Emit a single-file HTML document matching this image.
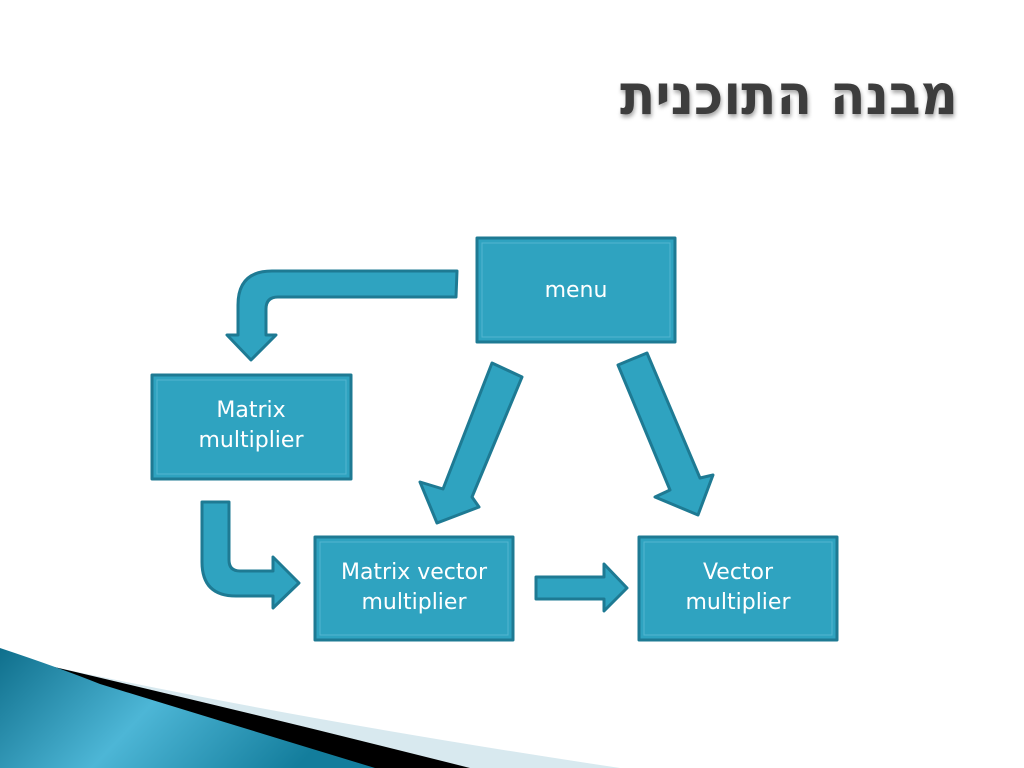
<!DOCTYPE html>
<html><head><meta charset="utf-8"><style>
html,body{margin:0;padding:0;background:#fff;width:1024px;height:768px;overflow:hidden}
svg{display:block}
</style></head><body>
<svg width="1024" height="768" viewBox="0 0 1024 768" xmlns="http://www.w3.org/2000/svg">
<defs>
<linearGradient id="tg" x1="0" y1="0" x2="1" y2="0.3">
<stop offset="0" stop-color="#0f6f8c"/><stop offset="0.5" stop-color="#4db6d6"/><stop offset="1" stop-color="#137d9c"/>
</linearGradient>
<filter id="sh" x="-5%" y="-20%" width="110%" height="150%"><feDropShadow dx="1" dy="3" stdDeviation="2" flood-color="#000" flood-opacity="0.35"/></filter>
</defs>
<path d="M40,664 Q300,720 620,768 L0,768 Z" fill="#d8e9ef"/>
<path d="M50,666 Q260,715 470,768 L0,768 Z" fill="#000"/>
<path d="M0,648 Q60,668 100,684 Q250,730 375,768 L0,768 Z" fill="url(#tg)"/>
<text x="620" y="114" textLength="338" lengthAdjust="spacingAndGlyphs" font-family="'DejaVu Sans', 'Liberation Sans', sans-serif" font-weight="bold" font-size="56" fill="#3c3c3c" filter="url(#sh)">מבנה התוכנית</text>
<g fill="#2fa3c0" stroke="#1e7a93" stroke-width="3" stroke-linejoin="round">
<rect x="477" y="238" width="198" height="104"/>
<rect x="152" y="375" width="199" height="104"/>
<rect x="315" y="537" width="198" height="103"/>
<rect x="639" y="537" width="198" height="103"/>
<path d="M457,271 L456,297 L278,297 Q266,297 266,309 L266,335 L276,335 L251,360 L227,335 L238,335 L238,305 Q238,271 272,271 Z"/>
<path d="M202,502 L229,502 L229,560 Q229,571 240,571 L273,571 L273,557 L299,583 L273,608 L273,596 L236,596 Q202,596 202,562 Z"/>
<path d="M492,363 L522,377 L472,497 L479,507 L437,523 L420,482 L443,489 Z"/>
<path d="M618,365 L647,353 L700,478 L713,475 L698,515 L655,497 L670,490 Z"/>
<path d="M536,577 L604,577 L604,564 L627,588 L604,611 L604,599 L536,599 Z"/>
</g>
<g fill="none" stroke="#5cbad3" stroke-width="1" opacity="0.8">
<rect x="482" y="243" width="188" height="94"/>
<rect x="157" y="380" width="189" height="94"/>
<rect x="320" y="542" width="188" height="93"/>
<rect x="644" y="542" width="188" height="93"/>
</g>
<g fill="#fff" font-family="'DejaVu Sans', 'Liberation Sans', sans-serif" font-size="22" text-anchor="middle">
<text x="576" y="297">menu</text>
<text x="251" y="417">Matrix</text>
<text x="251" y="447">multiplier</text>
<text x="414" y="579">Matrix vector</text>
<text x="414" y="609">multiplier</text>
<text x="738" y="579">Vector</text>
<text x="738" y="609">multiplier</text>
</g>
</svg>
</body></html>
